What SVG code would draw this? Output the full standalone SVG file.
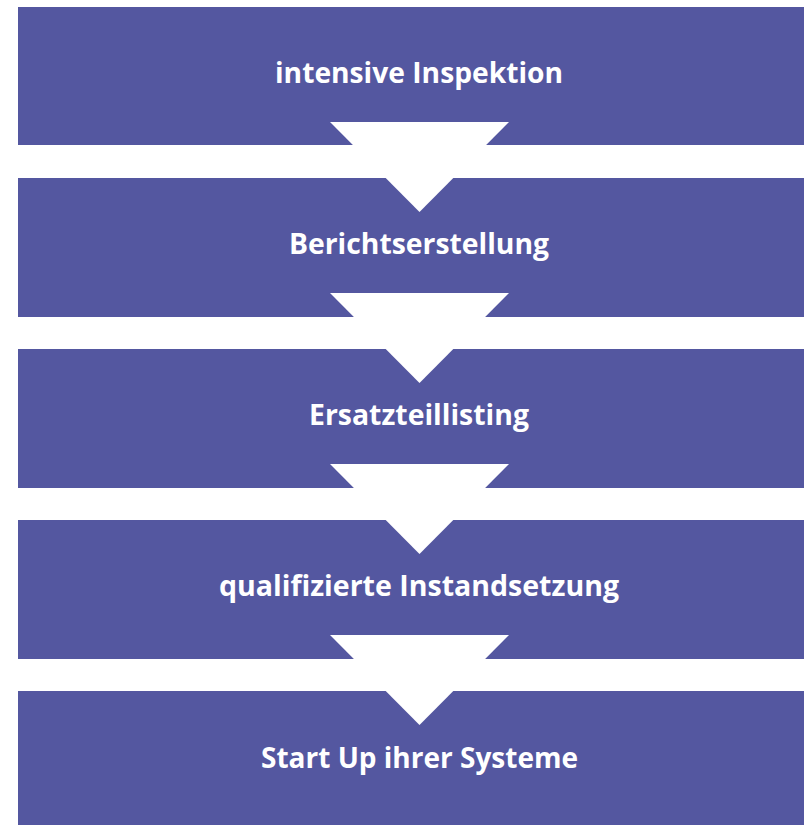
<svg xmlns="http://www.w3.org/2000/svg" width="804" height="825" viewBox="0 0 804 825">
<style>
.box{fill:#5457a0}
.arr{fill:#ffffff}
.lbl{font-family:"Open Sans","Liberation Sans",sans-serif;font-weight:bold;font-size:28px;fill:#ffffff;text-anchor:middle}
</style>
<rect width="804" height="825" fill="#ffffff"/>
<g id="n1"><rect class="box" x="18" y="7" width="786" height="138"/><text class="lbl" x="419" y="83" textLength="288" lengthAdjust="spacingAndGlyphs">intensive Inspektion</text></g>
<g id="n2"><rect class="box" x="18" y="178" width="786" height="139"/><text class="lbl" x="419" y="254" textLength="260" lengthAdjust="spacingAndGlyphs">Berichtserstellung</text></g>
<g id="n3"><rect class="box" x="18" y="349" width="786" height="139"/><text class="lbl" x="419" y="425" textLength="220" lengthAdjust="spacingAndGlyphs">Ersatzteillisting</text></g>
<g id="n4"><rect class="box" x="18" y="520" width="786" height="139"/><text class="lbl" x="419" y="596" textLength="400" lengthAdjust="spacingAndGlyphs">qualifizierte Instandsetzung</text></g>
<g id="n5"><rect class="box" x="18" y="691" width="786" height="134"/><text class="lbl" x="419.5" y="768" textLength="317" lengthAdjust="spacingAndGlyphs">Start Up ihrer Systeme</text></g>
<g id="connectors">
<polygon class="arr" points="330,122 509,122 419.5,212"/>
<polygon class="arr" points="330,293 509,293 419.5,383"/>
<polygon class="arr" points="330,464 509,464 419.5,554"/>
<polygon class="arr" points="330,635 509,635 419.5,725"/>
</g>
</svg>
